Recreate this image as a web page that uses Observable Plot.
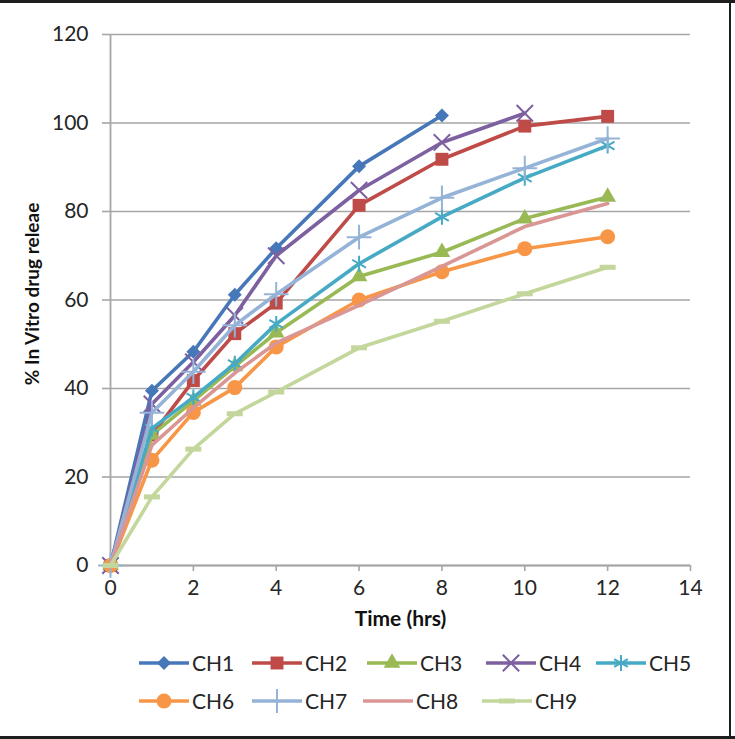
<!DOCTYPE html>
<html><head><meta charset="utf-8">
<script src="https://cdn.jsdelivr.net/npm/d3@7"></script>
<script src="https://cdn.jsdelivr.net/npm/@observablehq/plot@0.6"></script>
<style>
body{margin:0;background:#fff;}
#wrap{position:relative;width:735px;height:739px;overflow:hidden;background:#fff;font-family:Lato,"Open Sans",sans-serif;color:#262626;}
#chart{position:absolute;left:0;top:0;}
.leg{position:absolute;display:flex;align-items:center;font-size:21px;height:24px;line-height:24px;}
.leg svg{display:block;margin-right:3px;}
.bd{position:absolute;background:#1e1e1e;}
</style></head><body>
<div id="wrap"><div id="chart"></div><div id="legend"></div>
<div class="bd" style="left:0;top:0;width:735px;height:3px"></div>
<div class="bd" style="left:0;top:736px;width:735px;height:3px"></div>
<div class="bd" style="left:729px;top:0;width:2px;height:739px"></div>
</div>
<script>
const time = [0, 1, 2, 3, 4, 6, 8, 10, 12];
const seriesNames = ["CH1","CH2","CH3","CH4","CH5","CH6","CH7","CH8","CH9"];
const ch1 = [0, 39.5, 48.3, 61.2, 71.7, 90.2, 101.7];
const ch2 = [0, 29.5, 41.8, 52.4, 59.3, 81.4, 91.8, 99.3, 101.5];
const ch3 = [0, 29.5, 37.2, 45.0, 52.6, 65.3, 70.8, 78.4, 83.3];
const ch4 = [0, 36.5, 46.0, 56.5, 70.0, 84.8, 95.6, 102.2];
const ch5 = [0, 31.0, 38.0, 45.6, 54.6, 68.2, 78.8, 87.6, 94.9];
const ch6 = [0, 23.8, 34.6, 40.2, 49.4, 60.0, 66.4, 71.6, 74.3];
const ch7 = [0, 34.5, 43.8, 54.3, 61.3, 74.2, 83.1, 89.8, 96.5];
const ch8 = [0, 27.2, 35.6, 43.5, 50.3, 58.8, 67.6, 76.6, 81.8];
const ch9 = [0, 15.5, 26.3, 34.3, 39.2, 49.2, 55.2, 61.4, 67.4];
const seriesValues = [ch1, ch2, ch3, ch4, ch5, ch6, ch7, ch8, ch9];
const colors = ["#4677b8","#be4b48","#98b954","#7d60a0","#46aac5","#f79646","#95b3d7","#d99694","#c3d69b"];
const xTicks = [0, 2, 4, 6, 8, 10, 12, 14];
const yTicks = [0, 20, 40, 60, 80, 100, 120];
const xTitle = "Time (hrs)";
const yTitle = "% In Vitro drug releae";

const dash = {draw(ctx, size){ const r = Math.sqrt(size / Math.PI); ctx.moveTo(-r, 0); ctx.lineTo(r, 0); }};
const markers = [
  {symbol:"diamond2", r:6.3, filled:true},
  {symbol:"square", r:7.3, filled:true},
  {symbol:"triangle", r:6.2, filled:true},
  {symbol:"times", r:7.5, filled:false, sw:2},
  {symbol:"asterisk", r:7.5, filled:false, sw:2},
  {symbol:"circle", r:7.5, filled:true},
  {symbol:"plus", r:8, filled:false, sw:2},
  null,
  {symbol:dash, r:8, filled:false, sw:5}
];

const rows = [];
seriesNames.forEach((s, k) => seriesValues[k].forEach((v, i) => rows.push({series: s, time: time[i], value: v})));

const grid = "#a6a6a6";
const marks = [
  Plot.gridY(yTicks, {stroke: grid, strokeOpacity: 1, strokeWidth: 1.6}),
  Plot.axisY(yTicks, {tickSize: 8, tickPadding: 14, stroke: grid, strokeWidth: 1.6, fill: "#262626", fontSize: 21, label: null}),
  Plot.axisX(xTicks, {tickSize: 6, tickPadding: 9, stroke: grid, strokeWidth: 1.6, fill: "#262626", fontSize: 21, label: null}),
  Plot.ruleX([0], {stroke: grid, strokeWidth: 1.8}),
  Plot.ruleY([0], {stroke: grid, strokeWidth: 1.8}),
  Plot.text([xTitle], {frameAnchor: "bottom", lineAnchor: "middle", dy: 54, fontSize: 21, fontWeight: "bold", fill: "#111"}),
  Plot.text([yTitle], {frameAnchor: "left", textAnchor: "middle", lineAnchor: "middle", dx: -78, dy: -6, rotate: -90, fontSize: 19, fontWeight: "bold", fill: "#111"})
];
seriesNames.forEach((s, k) => {
  const d = rows.filter(r => r.series === s);
  marks.push(Plot.line(d, {x: "time", y: "value", stroke: colors[k], strokeWidth: 3.6}));
  const m = markers[k];
  if (m) {
    marks.push(Plot.dot(d, m.filled
      ? {x: "time", y: "value", symbol: m.symbol, r: m.r, fill: colors[k], stroke: "none"}
      : {x: "time", y: "value", symbol: m.symbol, r: m.r, fill: "none", stroke: colors[k], strokeWidth: m.sw}));
  }
});

const chart = Plot.plot({
  width: 735, height: 640,
  marginLeft: 110, marginRight: 45, marginTop: 34, marginBottom: 75,
  style: {fontFamily: "Lato, 'Open Sans', sans-serif", fontSize: "21px", background: "transparent", overflow: "visible"},
  x: {domain: [0, 14]},
  y: {domain: [0, 120]},
  marks
});
document.getElementById("chart").appendChild(chart);

// legend
const legPos = [[139,663],[252,663],[367,663],[486,663],[596,663],[139,701],[252,701],[363,701],[482,701]];
const d3sym = {diamond2: d3.symbolDiamond2, square: d3.symbolSquare, triangle: d3.symbolTriangle, times: d3.symbolTimes, asterisk: d3.symbolAsterisk, circle: d3.symbolCircle, plus: d3.symbolPlus};
const leg = document.getElementById("legend");
seriesNames.forEach((s, k) => {
  const [lx, ly] = legPos[k];
  const div = document.createElement("div");
  div.className = "leg";
  div.style.left = lx + "px";
  div.style.top = (ly - 12) + "px";
  const m = markers[k];
  let mk = "";
  if (m) {
    const type = typeof m.symbol === "string" ? d3sym[m.symbol] : m.symbol;
    const p = d3.symbol(type, m.r * m.r * Math.PI)();
    mk = m.filled ? `<path transform="translate(25,12)" d="${p}" fill="${colors[k]}"/>`
                  : `<path transform="translate(25,12)" d="${p}" fill="none" stroke="${colors[k]}" stroke-width="${m.sw}"/>`;
  }
  div.innerHTML = `<svg width="50" height="24"><line x1="0" x2="50" y1="12" y2="12" stroke="${colors[k]}" stroke-width="3.6"/>${mk}</svg><span>${s}</span>`;
  leg.appendChild(div);
});
</script>
</body></html>
